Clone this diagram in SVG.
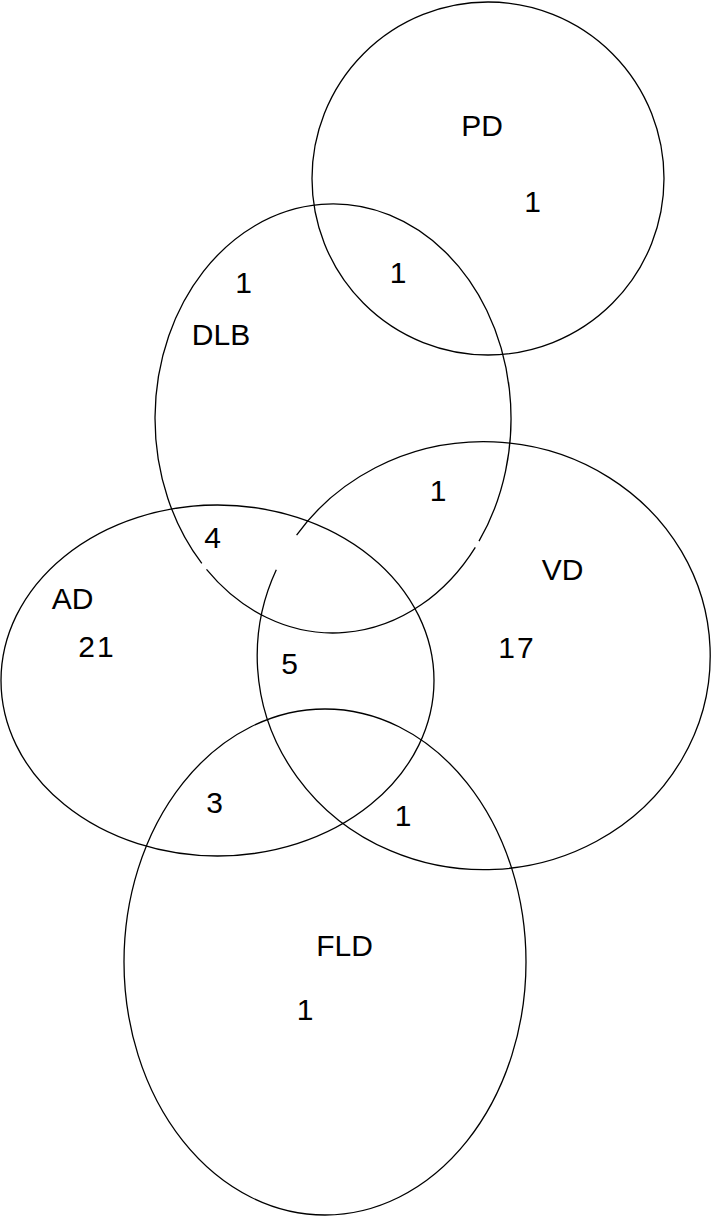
<svg xmlns="http://www.w3.org/2000/svg" width="712" height="1217" viewBox="0 0 712 1217">
<style>
.set{fill:none;stroke:#000;stroke-width:1.3}
.lbl{font-family:"Liberation Sans",Arial,Helvetica,sans-serif;font-size:30px;fill:#000;text-anchor:middle}
</style>
<rect x="0" y="0" width="712" height="1217" fill="#fff"/>
<g id="connectors"></g>
<g id="PD">
<ellipse class="set" cx="488" cy="178.5" rx="176" ry="176.5"/>
<text class="lbl" x="482" y="136">PD</text>
</g>
<g id="DLB">
<path class="set" d="M475.3,547.3 A178,214.5 0 0 1 206.5,569.4 M201.8,563.4 A178,214.5 0 1 1 479.0,541.2"/>
<text class="lbl" x="221" y="345">DLB</text>
</g>
<g id="VD">
<path class="set" d="M296.6,535.1 A226.5,214 0 1 1 276.3,569.7"/>
<text class="lbl" x="562.5" y="580">VD</text>
</g>
<g id="AD">
<ellipse class="set" cx="217.5" cy="680.5" rx="216.5" ry="175.5"/>
<text class="lbl" x="72.5" y="609">AD</text>
</g>
<g id="FLD">
<ellipse class="set" cx="325" cy="962" rx="201" ry="253"/>
<text class="lbl" x="344.5" y="956">FLD</text>
</g>
<g id="counts">
<text class="lbl" x="532.5" y="212">1</text>
<text class="lbl" x="398" y="283">1</text>
<text class="lbl" x="243.5" y="293">1</text>
<text class="lbl" x="438" y="501">1</text>
<text class="lbl" x="517" y="658" letter-spacing="2">17</text>
<text class="lbl" x="97" y="657" letter-spacing="2">21</text>
<text class="lbl" x="212.5" y="548">4</text>
<text class="lbl" x="289.5" y="674">5</text>
<text class="lbl" x="214.5" y="813">3</text>
<text class="lbl" x="403" y="826">1</text>
<text class="lbl" x="305" y="1020">1</text>
</g>
</svg>
